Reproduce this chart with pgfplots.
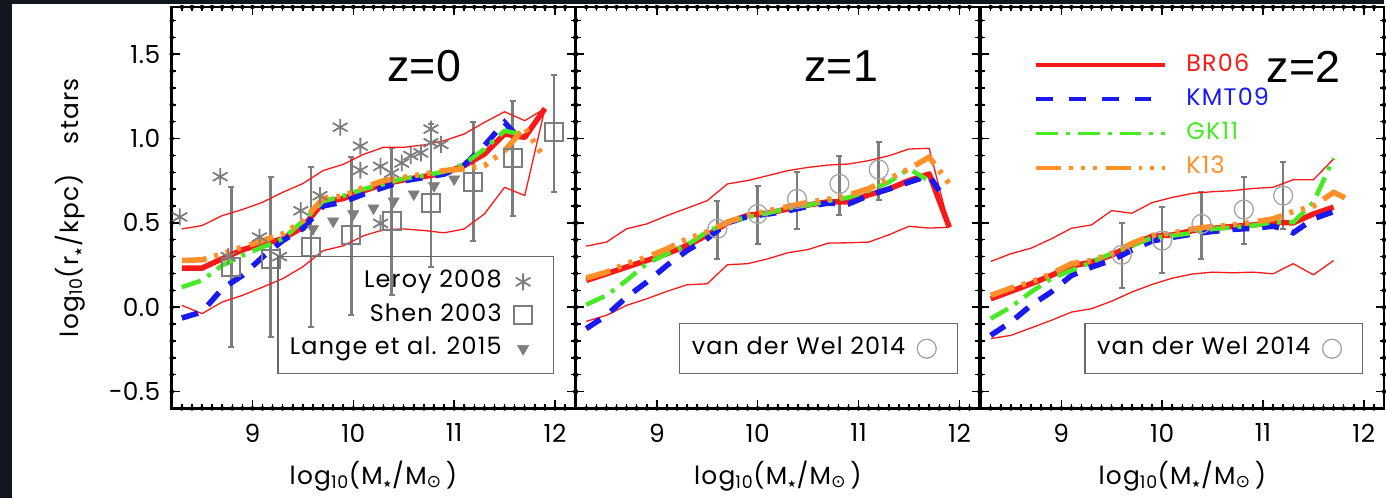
\documentclass[border=0pt]{standalone}
\usepackage{pgfplots}
\usepackage{pgfplotstable}
\pgfplotsset{compat=1.18}
\usepackage{fontspec}
\setmainfont{Liberation Sans}
\newfontfamily\lsans{Poppins}[LetterSpace=5]
\newfontfamily\tsans{Poppins}[LetterSpace=2]
\newfontfamily\zsans{Liberation Sans}
\newfontfamily\sym{DejaVu Sans}
\definecolor{bg}{RGB}{18,22,30}
\definecolor{cred}{RGB}{250,25,25}
\definecolor{cblue}{RGB}{25,25,240}
\definecolor{cgreen}{RGB}{70,235,35}
\definecolor{corange}{RGB}{255,145,40}
\definecolor{obs}{RGB}{125,125,125}
\definecolor{obsl}{RGB}{165,165,165}
\definecolor{boxc}{RGB}{105,105,105}
% tick positions of the frame (x ticks: bottom and top edge; y ticks: left and right edge)
\pgfplotstableread{
x yb yt
8.3 -0.6 1.78
8.4 -0.6 1.78
8.5 -0.6 1.78
8.6 -0.6 1.78
8.7 -0.6 1.78
8.8 -0.6 1.78
8.9 -0.6 1.78
9.1 -0.6 1.78
9.2 -0.6 1.78
9.3 -0.6 1.78
9.4 -0.6 1.78
9.5 -0.6 1.78
9.6 -0.6 1.78
9.7 -0.6 1.78
9.8 -0.6 1.78
9.9 -0.6 1.78
10.1 -0.6 1.78
10.2 -0.6 1.78
10.3 -0.6 1.78
10.4 -0.6 1.78
10.5 -0.6 1.78
10.6 -0.6 1.78
10.7 -0.6 1.78
10.8 -0.6 1.78
10.9 -0.6 1.78
11.1 -0.6 1.78
11.2 -0.6 1.78
11.3 -0.6 1.78
11.4 -0.6 1.78
11.5 -0.6 1.78
11.6 -0.6 1.78
11.7 -0.6 1.78
11.8 -0.6 1.78
11.9 -0.6 1.78
12.1 -0.6 1.78
}\xminortab
\pgfplotstableread{
x yb yt
9 -0.6 1.78
10 -0.6 1.78
11 -0.6 1.78
12 -0.6 1.78
}\xmajortab
\pgfplotstableread{
y xl xr
-0.4 8.2 12.2
-0.3 8.2 12.2
-0.2 8.2 12.2
-0.1 8.2 12.2
0.1 8.2 12.2
0.2 8.2 12.2
0.3 8.2 12.2
0.4 8.2 12.2
0.6 8.2 12.2
0.7 8.2 12.2
0.8 8.2 12.2
0.9 8.2 12.2
1.1 8.2 12.2
1.2 8.2 12.2
1.3 8.2 12.2
1.4 8.2 12.2
1.6 8.2 12.2
1.7 8.2 12.2
}\yminortab
\pgfplotstableread{
y xl xr
-0.5 8.2 12.2
0 8.2 12.2
0.5 8.2 12.2
1 8.2 12.2
1.5 8.2 12.2
}\ymajortab
\pgfplotsset{
  panel/.style={
    scale only axis, width=404bp, height=402bp, anchor=south west,
    xmin=8.2, xmax=12.2, ymin=-0.6, ymax=1.78,
    xtick={9,10,11,12}, ytick={-0.5,0,0.5,1,1.5},
    xticklabels={9,10,11,12},
    major tick length=0bp, minor tick length=0bp,
    axis line style={black, line width=2.6bp},
    ticklabel style={font=\fontsize{25}{25}\tsans},
    xticklabel style={yshift=-12bp},
    yticklabel style={xshift=-8bp},
    xlabel={log\textsubscript{10}(M\textsubscript{\fontsize{10}{10}\sym★}/M\textsubscript{\sym⊙}\,)},
    every axis x label/.style={at={(axis description cs:0.5,-0.168)}, anchor=center, font=\fontsize{25}{25}\lsans},
  },
  tk/.style={forget plot, only marks, mark=none},
  tkv/.style 2 args={tk, error bars/.cd, y dir=#1, y fixed=#2, error mark=none,
    error bar style={black, line width=1.5bp, line cap=butt}},
  tkh/.style 2 args={tk, error bars/.cd, x dir=#1, x fixed=#2, error mark=none,
    error bar style={black, line width=1.5bp, line cap=butt}},
  frameticks/.code={%
    \addplot[tkv={plus}{0.0266}] table[x=x,y=yb] {\xminortab};
    \addplot[tkv={minus}{0.0266}] table[x=x,y=yt] {\xminortab};
    \addplot[tkv={plus}{0.0474}] table[x=x,y=yb] {\xmajortab};
    \addplot[tkv={minus}{0.0474}] table[x=x,y=yt] {\xmajortab};
    \addplot[tkh={plus}{0.0446}] table[x=xl,y=y] {\yminortab};
    \addplot[tkh={minus}{0.0446}] table[x=xr,y=y] {\yminortab};
    \addplot[tkh={plus}{0.0792}] table[x=xl,y=y] {\ymajortab};
    \addplot[tkh={minus}{0.0792}] table[x=xr,y=y] {\ymajortab};
  },
  br/.style={cred, line width=5.5bp, line join=round, mark=none},
  brthin/.style={cred, line width=1.3bp, line join=round, mark=none},
  kmt/.style={cblue, line width=5.5bp, mark=none, dash pattern=on 17bp off 13bp},
  gk/.style={cgreen, line width=4.5bp, mark=none, dash pattern=on 20bp off 8bp on 4bp off 8bp},
  kk/.style={corange, line width=5.5bp, mark=none, dash pattern=on 25bp off 8bp on 4bp off 8bp on 4bp off 8bp on 4bp off 9bp},
  ebar/.style={error bars/.cd, y dir=both, y explicit,
    error bar style={line width=2.5bp, obs},
    error mark options={rotate=90, line width=2bp, mark size=3bp, obs}},
  obslegend/.style={
    legend style={draw=boxc, line width=1.2bp, fill=none, anchor=south east,
      font=\fontsize{24}{24}\lsans, inner xsep=10bp, inner ysep=12bp, row sep=7.5bp,
      nodes={inner sep=2bp, text height=17bp, text depth=5bp},
      /tikz/every odd column/.style={column sep=10bp}},
    legend plot pos=right, legend cell align=right,
    legend image code/.code={\path[draw=none,fill=none] (0bp,-2bp) rectangle (30bp,2bp); \draw[##1] plot coordinates {(9.5bp,0bp)};}},
}
\begin{document}
\begin{tikzpicture}
\fill[bg] (0bp,0bp) rectangle (1386bp,499bp);
\fill[white] (12bp,0bp) rectangle (1386bp,495bp);

% ---------------- panel z=0
\begin{axis}[panel, at={(172bp,90bp)},
  yticklabels={−0.5,0.0,0.5,1.0,1.5},
  ylabel={log\textsubscript{10}(r\textsubscript{\fontsize{10}{10}\sym★}/kpc)\hspace{1.2em}stars},
  every axis y label/.style={at={(axis description cs:-0.2525,0.5)}, rotate=90, anchor=center, font=\fontsize{25}{25}\lsans},
  obslegend, legend style={at={(0.948,0.085)}}]
\addplot[only marks, mark=asterisk, mark size=8.5bp, obs, mark options={line width=1.8bp}] coordinates {
(8.28,0.535)(8.68,0.774)(8.76,0.30)(9.07,0.416)(9.27,0.30)(9.48,0.572)(9.67,0.661)(9.87,1.067)
(10.07,0.955)(10.07,0.812)(10.27,0.835)(10.27,0.497)(10.38,0.795)(10.48,0.855)(10.57,0.899)
(10.67,0.915)(10.77,1.056)(10.77,0.975)(10.87,0.965)};
\addlegendentry{Leroy 2008}
\addplot[only marks, mark=square, mark size=9bp, obs, mark options={line width=2bp}, ebar] coordinates {
(8.79,0.238) += (0,0.473) -= (0,0.474)
(9.18,0.287) += (0,0.483) -= (0,0.464)
(9.58,0.356) += (0,0.473) -= (0,0.473)
(9.98,0.431) += (0,0.458) -= (0,0.479)
(10.38,0.510) += (0,0.432) -= (0,0.440)
(10.77,0.616) += (0,0.470) -= (0,0.378)
(11.19,0.741) += (0,0.355) -= (0,0.351)
(11.58,0.885) += (0,0.339) -= (0,0.342)
(11.99,1.037) += (0,0.339) -= (0,0.352)};
\addlegendentry{Shen 2003}
\addplot[only marks, mark=triangle*, mark size=6.5bp, obs, mark options={rotate=180, line width=0.5bp}] coordinates {
(9.60,0.465)(9.80,0.510)(10.00,0.553)(10.20,0.588)(10.40,0.629)(10.60,0.671)(10.80,0.720)(11.00,0.760)};
\addlegendentry{Lange et al. 2015}
\pgfplotsset{frameticks}
\addplot[brthin, forget plot] coordinates {(8.3,0.464)(8.5,0.484)(8.7,0.543)(8.9,0.579)(9.1,0.622)(9.3,0.681)(9.5,0.733)(9.7,0.810)(9.9,0.847)(10.1,0.906)(10.3,0.948)(10.5,0.948)(10.7,0.962)(10.9,0.987)(11.1,1.027)(11.3,1.096)(11.5,1.159)(11.7,1.106)(11.9,1.178)};
\addplot[brthin, forget plot] coordinates {(8.3,0.011)(8.5,-0.038)(8.7,0.031)(8.9,0.070)(9.1,0.119)(9.3,0.169)(9.5,0.240)(9.7,0.335)(9.9,0.364)(10.1,0.423)(10.3,0.460)(10.5,0.464)(10.7,0.455)(10.9,0.441)(11.1,0.464)(11.3,0.553)(11.5,0.711)(11.7,0.662)(11.9,1.178)};
\addplot[br, forget plot] coordinates {(8.3,0.232)(8.5,0.232)(8.7,0.287)(8.9,0.340)(9.1,0.376)(9.3,0.405)(9.5,0.475)(9.7,0.622)(9.9,0.644)(10.1,0.690)(10.3,0.730)(10.5,0.755)(10.7,0.775)(10.9,0.795)(11.1,0.839)(11.3,0.908)(11.5,1.027)(11.7,1.007)(11.9,1.178)};
\addplot[kmt, forget plot] coordinates {(8.3,-0.064)(8.5,-0.028)(8.7,0.109)(8.9,0.188)(9.1,0.297)(9.3,0.395)(9.5,0.466)(9.7,0.600)(9.9,0.624)(10.1,0.670)(10.3,0.710)(10.5,0.749)(10.7,0.769)(10.9,0.789)(11.1,0.843)(11.3,0.958)(11.5,1.096)(11.6,1.03)};
\addplot[gk, forget plot] coordinates {(8.3,0.119)(8.5,0.159)(8.7,0.248)(8.9,0.307)(9.1,0.356)(9.3,0.405)(9.5,0.510)(9.7,0.628)(9.9,0.660)(10.1,0.700)(10.3,0.730)(10.5,0.763)(10.7,0.780)(10.9,0.804)(11.1,0.849)(11.3,0.938)(11.5,1.046)(11.7,1.02)};
\addplot[kk, forget plot] coordinates {(8.3,0.277)(8.5,0.281)(8.7,0.317)(8.9,0.356)(9.1,0.395)(9.3,0.435)(9.5,0.510)(9.7,0.646)(9.9,0.660)(10.1,0.710)(10.3,0.750)(10.5,0.770)(10.7,0.790)(10.9,0.810)(11.1,0.820)(11.3,0.839)(11.5,0.928)(11.7,1.066)(11.9,0.879)};
\node[font=\fontsize{45}{45}\zsans] at (rel axis cs:0.626,0.852) {z=0};
\end{axis}

% ---------------- panel z=1
\begin{axis}[panel, at={(577bp,90bp)}, yticklabels={},
  obslegend, legend style={at={(0.946,0.085)}}]
\addplot[only marks, mark=o, mark size=9.5bp, obsl, mark options={line width=1.3bp}, ebar] coordinates {
(9.60,0.465) += (0,0.167) -= (0,0.178)
(10.00,0.553) += (0,0.168) -= (0,0.177)
(10.39,0.642) += (0,0.162) -= (0,0.177)
(10.81,0.731) += (0,0.167) -= (0,0.184)
(11.20,0.816) += (0,0.165) -= (0,0.178)};
\addlegendentry{van der Wel 2014}
\pgfplotsset{frameticks}
\addplot[brthin, forget plot] coordinates {(8.3,0.362)(8.5,0.386)(8.7,0.465)(8.9,0.494)(9.1,0.543)(9.3,0.587)(9.5,0.632)(9.7,0.731)(9.9,0.751)(10.1,0.780)(10.3,0.810)(10.5,0.829)(10.7,0.843)(10.9,0.849)(11.1,0.869)(11.3,0.898)(11.5,0.938)(11.7,0.942)(11.9,0.474)};
\addplot[brthin, forget plot] coordinates {(8.3,-0.084)(8.5,-0.048)(8.7,0.011)(8.9,0.050)(9.1,0.094)(9.3,0.133)(9.5,0.139)(9.7,0.252)(9.9,0.258)(10.1,0.287)(10.3,0.323)(10.5,0.342)(10.7,0.380)(10.9,0.382)(11.1,0.386)(11.3,0.429)(11.5,0.480)(11.7,0.469)(11.9,0.474)};
\addplot[br, forget plot] coordinates {(8.3,0.159)(8.5,0.198)(8.7,0.238)(8.9,0.277)(9.1,0.317)(9.3,0.366)(9.5,0.427)(9.7,0.500)(9.9,0.545)(10.1,0.558)(10.3,0.582)(10.5,0.606)(10.7,0.625)(10.9,0.625)(11.1,0.666)(11.3,0.701)(11.5,0.751)(11.7,0.790)(11.9,0.474)};
\addplot[kmt, forget plot] coordinates {(8.3,-0.127)(8.5,-0.048)(8.7,0.060)(8.9,0.149)(9.1,0.248)(9.3,0.336)(9.5,0.407)(9.7,0.500)(9.9,0.538)(10.1,0.552)(10.3,0.572)(10.5,0.598)(10.7,0.617)(10.9,0.612)(11.1,0.662)(11.3,0.701)(11.5,0.741)(11.7,0.780)(11.8,0.691)};
\addplot[gk, forget plot] coordinates {(8.3,0.015)(8.5,0.070)(8.7,0.159)(8.9,0.258)(9.1,0.317)(9.3,0.370)(9.5,0.447)(9.7,0.505)(9.9,0.535)(10.1,0.558)(10.3,0.585)(10.5,0.606)(10.7,0.631)(10.9,0.651)(11.1,0.691)(11.3,0.741)(11.5,0.820)(11.67,0.760)};
\addplot[kk, forget plot] coordinates {(8.3,0.173)(8.5,0.208)(8.7,0.258)(8.9,0.297)(9.1,0.346)(9.3,0.405)(9.5,0.447)(9.7,0.505)(9.9,0.545)(10.1,0.571)(10.3,0.597)(10.5,0.622)(10.7,0.640)(10.9,0.665)(11.1,0.703)(11.3,0.760)(11.5,0.820)(11.7,0.890)(11.9,0.731)};
\node[font=\fontsize{45}{45}\zsans] at (rel axis cs:0.657,0.852) {z=1};
\end{axis}

% ---------------- panel z=2
\begin{axis}[panel, at={(982bp,90bp)}, yticklabels={},
  obslegend, legend style={at={(0.948,0.085)}}]
\addplot[only marks, mark=o, mark size=9.5bp, obsl, mark options={line width=1.3bp}, ebar] coordinates {
(9.60,0.311) += (0,0.189) -= (0,0.198)
(10.00,0.395) += (0,0.198) -= (0,0.191)
(10.39,0.494) += (0,0.191) -= (0,0.207)
(10.81,0.579) += (0,0.191) -= (0,0.203)
(11.20,0.662) += (0,0.197) -= (0,0.197)};
\addlegendentry{van der Wel 2014}
\pgfplotsset{frameticks}
\addplot[brthin, forget plot] coordinates {(8.3,0.271)(8.5,0.317)(8.7,0.350)(8.9,0.405)(9.1,0.468)(9.3,0.488)(9.5,0.573)(9.7,0.557)(9.9,0.620)(10.1,0.651)(10.3,0.675)(10.5,0.685)(10.7,0.691)(10.9,0.704)(11.1,0.711)(11.3,0.756)(11.5,0.756)(11.7,0.879)};
\addplot[brthin, forget plot] coordinates {(8.3,-0.186)(8.5,-0.167)(8.7,-0.123)(8.9,-0.078)(9.1,-0.029)(9.3,-0.009)(9.5,0.036)(9.7,0.090)(9.9,0.135)(10.1,0.172)(10.3,0.197)(10.5,0.208)(10.7,0.204)(10.9,0.208)(11.1,0.198)(11.3,0.258)(11.5,0.192)(11.7,0.277)};
\addplot[br, forget plot] coordinates {(8.3,0.050)(8.5,0.094)(8.7,0.139)(8.9,0.188)(9.1,0.244)(9.3,0.267)(9.5,0.309)(9.7,0.368)(9.9,0.421)(10.1,0.428)(10.3,0.454)(10.5,0.467)(10.7,0.479)(10.9,0.487)(11.1,0.504)(11.3,0.500)(11.5,0.553)(11.7,0.593)};
\addplot[kmt, forget plot] coordinates {(8.3,-0.167)(8.5,-0.088)(8.7,0.011)(8.9,0.090)(9.1,0.188)(9.3,0.238)(9.5,0.279)(9.7,0.338)(9.9,0.393)(10.1,0.414)(10.3,0.434)(10.5,0.449)(10.7,0.461)(10.9,0.468)(11.1,0.480)(11.2,0.465)(11.3,0.441)(11.5,0.524)(11.7,0.567)};
\addplot[gk, forget plot] coordinates {(8.3,-0.068)(8.5,0.001)(8.7,0.090)(8.9,0.169)(9.1,0.218)(9.3,0.267)(9.5,0.319)(9.7,0.364)(9.9,0.412)(10.1,0.424)(10.3,0.440)(10.5,0.464)(10.7,0.474)(10.9,0.484)(11.1,0.504)(11.3,0.504)(11.5,0.622)(11.7,0.883)};
\addplot[kk, forget plot] coordinates {(8.3,0.070)(8.5,0.113)(8.7,0.149)(8.9,0.198)(9.1,0.258)(9.3,0.277)(9.5,0.319)(9.7,0.378)(9.9,0.426)(10.1,0.440)(10.3,0.464)(10.5,0.479)(10.7,0.487)(10.9,0.504)(11.1,0.524)(11.3,0.567)(11.5,0.599)(11.7,0.681)(11.85,0.638)};
\node[font=\fontsize{45}{45}\zsans] at (rel axis cs:0.80,0.852) {z=2};
\end{axis}

% ---------------- model legend (overlay on panel z=2)
\begin{axis}[scale only axis, width=404bp, height=402bp, at={(982bp,90bp)}, anchor=south west,
  hide axis, xmin=0, xmax=1, ymin=0, ymax=1,
  legend style={draw=none, fill=none, at={(0.131,0.888)}, anchor=north west, inner sep=0bp,
    font=\fontsize{24}{24}\lsans, row sep=8.3bp,
    nodes={inner sep=2bp, text height=17bp, text depth=5bp},
    /tikz/every odd column/.style={column sep=17bp}},
  legend cell align=left,
  legend image code/.code={\draw[#1] (0bp,0bp) -- (130bp,0bp);}]
\addlegendimage{cred, line width=3.5bp}
\addlegendentry{\textcolor{cred}{BR06}}
\addlegendimage{cblue, line width=4bp, dash pattern=on 17bp off 16bp}
\addlegendentry{\textcolor{cblue}{KMT09}}
\addlegendimage{cgreen, line width=3.5bp, dash pattern=on 22bp off 8bp on 4bp off 8bp}
\addlegendentry{\textcolor{cgreen}{GK11}}
\addlegendimage{corange, line width=3.5bp, dash pattern=on 25bp off 8bp on 4bp off 8bp on 4bp off 8bp on 4bp off 9bp}
\addlegendentry{\textcolor{corange}{K13}}
\end{axis}
\end{tikzpicture}
\end{document}
